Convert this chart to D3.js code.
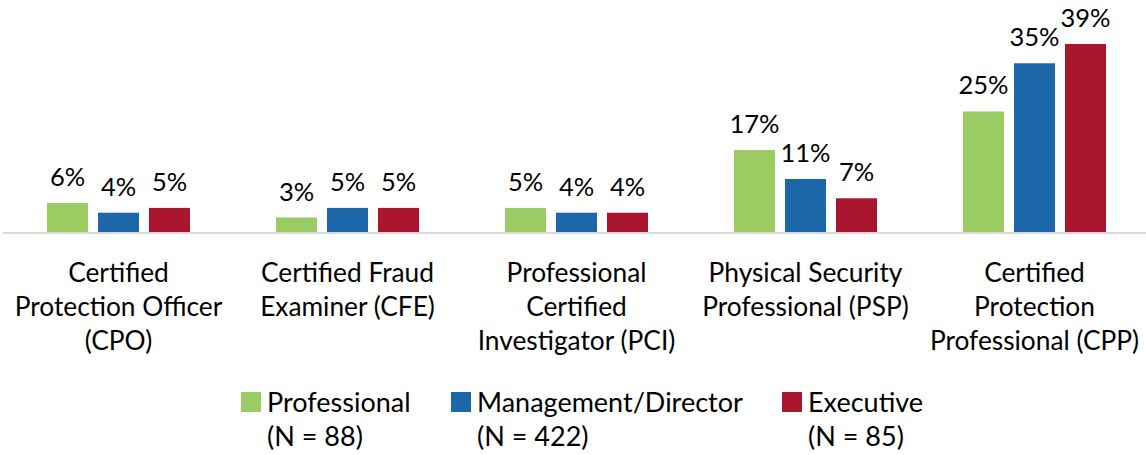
<!DOCTYPE html>
<html><head><meta charset="utf-8">
<script src="https://cdn.jsdelivr.net/npm/d3@7"></script>
<style>body{margin:0;background:#fff}svg{display:block}text{font-family:Lato,"Open Sans",sans-serif;fill:#000}</style>
</head><body><svg id="c" width="1146" height="455"></svg>
<script>
const categories = [
  ["Certified","Protection Officer","(CPO)"],
  ["Certified Fraud","Examiner (CFE)"],
  ["Professional","Certified","Investigator (PCI)"],
  ["Physical Security","Professional (PSP)"],
  ["Certified","Protection","Professional (CPP)"]
];
const seriesNames = ["Professional","Management/Director","Executive"];
const seriesN = ["(N = 88)","(N = 422)","(N = 85)"];
const professional = [6,3,5,17,25];
const management = [4,5,4,11,35];
const executive = [5,5,4,7,39];
const colors = ["#9BCB63","#1B67A9","#AB162F"];

const series = [professional, management, executive];
const svg = d3.select("#c");
const W = 1146, base = 232;
const x0 = d3.scaleBand().domain(d3.range(categories.length)).range([4, 1149]).paddingInner(0).paddingOuter(0);
const x1 = d3.scaleBand().domain(d3.range(3)).range([0, 143]).paddingInner(10/51).paddingOuter(0);
const y = d3.scaleLinear().domain([0, 39]).range([base, 44]);
const fs = 26.3, fsv = 25.5, fsl = 27;

categories.forEach((cat, i) => {
  const cx = x0(i) + x0.bandwidth()/2;
  const g = svg.append("g").attr("transform", `translate(${cx - 71.5},0)`);
  series.forEach((s, j) => {
    g.append("rect").attr("x", x1(j)).attr("width", x1.bandwidth())
      .attr("y", y(s[i])).attr("height", base - y(s[i])).attr("fill", colors[j]);
    g.append("text").attr("x", x1(j) + x1.bandwidth()/2).attr("y", y(s[i]) - 17)
      .attr("text-anchor", "middle").attr("font-size", fsv).text(s[i] + "%");
  });
  const t = svg.append("text").attr("text-anchor", "middle").attr("font-size", fs);
  cat.forEach((line, k) => {
    t.append("tspan").attr("x", cx).attr("y", 282 + k*34).text(line);
  });
});

svg.append("line").attr("x1", 3).attr("x2", W).attr("y1", base + 1).attr("y2", base + 1)
  .attr("stroke", "#d9d9d9").attr("stroke-width", 2);

const legX = [241, 451, 782];
seriesNames.forEach((n, j) => {
  svg.append("rect").attr("x", legX[j]).attr("y", 392).attr("width", 20).attr("height", 20).attr("fill", colors[j]);
  const t = svg.append("text").attr("font-size", fsl);
  t.append("tspan").attr("x", legX[j] + 26).attr("y", 412).text(n);
  t.append("tspan").attr("x", legX[j] + 26).attr("y", 446).text(seriesN[j]);
});
</script></body></html>
